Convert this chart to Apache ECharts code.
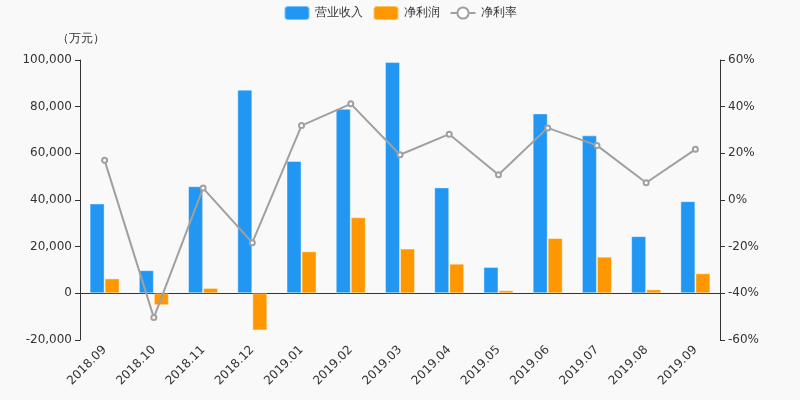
<!DOCTYPE html>
<html><head><meta charset="utf-8">
<script src="https://cdn.jsdelivr.net/npm/echarts@6/dist/echarts.min.js"></script>
<style>html,body{margin:0;padding:0;background:#f9f9f9}#c{width:800px;height:400px}</style>
</head><body><div id="c"></div>
<script>
var categories = ['2018.09','2018.10','2018.11','2018.12','2019.01','2019.02','2019.03','2019.04','2019.05','2019.06','2019.07','2019.08','2019.09'];
var revenue = [38500, 9900, 45900, 87300, 56700, 79100, 99100, 45400, 11300, 77100, 67700, 24500, 39500];
var profit = [6400, -5100, 2300, -15900, 18000, 32600, 19200, 12700, 1300, 23700, 15700, 1700, 8600];
var margin = [17.0, -50.4, 5.1, -18.3, 31.9, 41.2, 19.4, 28.2, 10.8, 30.9, 23.4, 7.4, 21.7];
var leftTicks = {min: -20000, max: 100000, interval: 20000};
var rightTicks = {min: -60, max: 60, interval: 20};

var chart = echarts.init(document.getElementById('c'));
var FF = 'DejaVu Sans';
var txt = {color: '#333', fontSize: 12, fontFamily: FF};
chart.setOption({
  backgroundColor: '#f9f9f9',
  animation: false,
  textStyle: {fontFamily: FF},
  legend: {
    top: 0, left: 'center', itemWidth: 25, itemHeight: 14, itemGap: 10,
    textStyle: txt,
    data: [{name: '营业收入', icon: 'roundRect'}, {name: '净利润', icon: 'roundRect'}, {name: '净利率'}]
  },
  grid: {left: 80, right: 80, top: 60, bottom: 60},
  xAxis: {
    type: 'category', data: categories,
    axisLine: {lineStyle: {color: '#333'}},
    axisTick: {lineStyle: {color: '#333'}},
    axisLabel: {rotate: 45, color: '#333', fontSize: 12, fontFamily: FF, interval: 0}
  },
  yAxis: [{
    type: 'value', name: '（万元）', nameGap: 15,
    nameTextStyle: {color: '#333', fontSize: 12, fontFamily: FF, align: 'right', padding: [0, -25, 0, 0]},
    min: leftTicks.min, max: leftTicks.max, interval: leftTicks.interval,
    axisLine: {show: true, lineStyle: {color: '#333'}},
    axisTick: {show: true},
    splitLine: {show: false},
    axisLabel: {color: '#333', fontSize: 12, fontFamily: FF, formatter: function(v){return v.toLocaleString('en-US');}}
  }, {
    type: 'value',
    min: rightTicks.min, max: rightTicks.max, interval: rightTicks.interval,
    axisLine: {show: true, lineStyle: {color: '#333'}},
    axisTick: {show: true},
    splitLine: {show: false},
    axisLabel: {color: '#333', fontSize: 12, fontFamily: FF, formatter: '{value}%'}
  }],
  series: [{
    name: '营业收入', type: 'bar', data: revenue, barWidth: 15, barGap: '0%',
    itemStyle: {color: '#2196f3', borderColor: 'rgba(255,255,255,0.4)', borderWidth: 1}
  }, {
    name: '净利润', type: 'bar', data: profit, barWidth: 15, barGap: '0%',
    itemStyle: {color: '#ff9800', borderColor: 'rgba(255,255,255,0.4)', borderWidth: 1}
  }, {
    name: '净利率', type: 'line', yAxisIndex: 1, data: margin,
    symbol: 'emptyCircle', symbolSize: 5,
    lineStyle: {color: '#a0a0a0', width: 2},
    itemStyle: {color: '#a0a0a0', borderColor: '#a0a0a0'}
  }]
});
</script></body></html>
